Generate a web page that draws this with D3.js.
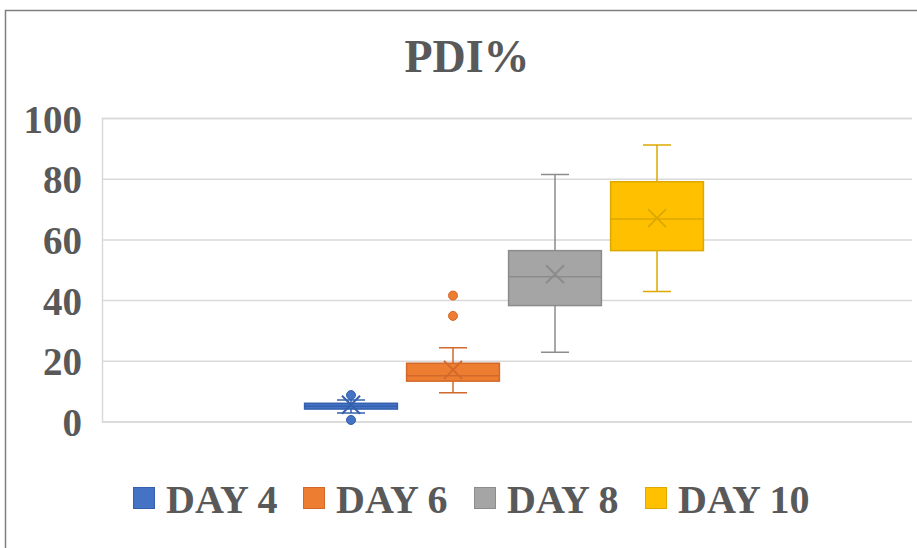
<!DOCTYPE html>
<html>
<head>
<meta charset="utf-8">
<script src="https://cdn.jsdelivr.net/npm/d3@7"></script>
<style>
	html, body { margin: 0; padding: 0; background: #fff; }
	svg { display: block; }
</style>
</head>
<body>
<div id="chart"></div>
<script>

const series = ['DAY 4', 'DAY 6', 'DAY 8', 'DAY 10'];
const whiskerLow = [2.8, 9.5, 22.8, 42.8];
const q1 = [4.1, 13.3, 38.2, 56.3];
const median = [5.0, 15.1, 47.7, 66.7];
const q3 = [6.0, 19.2, 56.3, 79.0];
const whiskerHigh = [7.1, 24.3, 81.4, 91.1];
const mean = [5.5, 17.0, 48.5, 67.0];
const outliers = [[8.7, 0.5], [41.5, 34.8], [], []];
const yTicks = [0, 20, 40, 60, 80, 100];

const theme = {
	fill: ['#4472C4', '#ED7D31', '#A5A5A5', '#FFC000'],
	stroke: ['#3560AE', '#D2692A', '#8C8C8C', '#DDA800'],
	text: '#595959',
	grid: '#D9D9D9',
};

const width = 917;
const height = 548;
const font = '"Liberation Serif", "Times New Roman", serif';

const svg = d3.select('#chart')
	.append('svg')
	.attr('width', width)
	.attr('height', height);

// chart frame, right and bottom edges run off the picture
svg.append('rect')
	.attr('x', 5.5)
	.attr('y', 10.5)
	.attr('width', 1000)
	.attr('height', 1000)
	.attr('fill', 'none')
	.attr('stroke', '#7F7F7F')
	.attr('stroke-width', 1.5);

svg.append('text')
	.attr('x', 467)
	.attr('y', 72)
	.attr('text-anchor', 'middle')
	.attr('font-family', font)
	.attr('font-weight', 'bold')
	.attr('font-size', 46)
	.attr('fill', theme.text)
	.text('PDI%');

const plot = { left: 102, right: 912, top: 118, bottom: 421.5 };

const y = d3.scaleLinear()
	.domain([0, 100])
	.range([plot.bottom, plot.top]);

const x = d3.scaleBand()
	.domain(series)
	.range([300, 708])
	.paddingInner(0.09)
	.paddingOuter(0.045);

// gridlines
const yAxis = d3.axisLeft(y)
	.tickValues(yTicks)
	.tickSize(-(plot.right - plot.left))
	.tickPadding(20)
	.tickFormat(d3.format('d'));

const gAxis = svg.append('g')
	.attr('transform', `translate(${plot.left},0)`)
	.call(yAxis);

gAxis.select('.domain').attr('stroke', theme.grid).attr('stroke-width', 1.5);
gAxis.selectAll('.tick line').attr('stroke', theme.grid).attr('stroke-width', 1.5);
gAxis.selectAll('.tick text')
	.attr('font-family', font)
	.attr('font-weight', 'bold')
	.attr('font-size', 39)
	.attr('fill', theme.text)
	.attr('dy', '0.36em');

const rows = series.map((s, i) => ({
	name: s, i: i,
	lo: whiskerLow[i], q1: q1[i], med: median[i], q3: q3[i], hi: whiskerHigh[i],
	mean: mean[i], out: outliers[i],
}));

const cap = 28;
const boxes = svg.append('g').selectAll('g')
	.data(rows)
	.join('g')
	.attr('transform', d => `translate(${x(d.name) + x.bandwidth() / 2},0)`);

// whiskers
boxes.append('path')
	.attr('fill', 'none')
	.attr('stroke', d => theme.stroke[d.i])
	.attr('stroke-width', 1.5)
	.attr('d', d => `M0,${y(d.lo)}V${y(d.q1)}M0,${y(d.q3)}V${y(d.hi)}` +
		`M${-cap / 2},${y(d.lo)}H${cap / 2}M${-cap / 2},${y(d.hi)}H${cap / 2}`);

boxes.append('rect')
	.attr('x', -x.bandwidth() / 2)
	.attr('width', x.bandwidth())
	.attr('y', d => y(d.q3))
	.attr('height', d => y(d.q1) - y(d.q3))
	.attr('fill', d => theme.fill[d.i])
	.attr('stroke', d => theme.stroke[d.i])
	.attr('stroke-width', 1.5);

boxes.append('line')
	.attr('x1', -x.bandwidth() / 2)
	.attr('x2', x.bandwidth() / 2)
	.attr('y1', d => y(d.med))
	.attr('y2', d => y(d.med))
	.attr('stroke', d => theme.stroke[d.i])
	.attr('stroke-width', 1.5);

// mean marker
const m = 9;
boxes.append('path')
	.attr('fill', 'none')
	.attr('stroke', d => theme.stroke[d.i])
	.attr('stroke-width', 2)
	.attr('d', d => `M${-m},${y(d.mean) - m}L${m},${y(d.mean) + m}M${m},${y(d.mean) - m}L${-m},${y(d.mean) + m}`);

boxes.selectAll('circle')
	.data(d => d.out.map(v => ({ v: v, i: d.i })))
	.join('circle')
	.attr('cx', 0)
	.attr('cy', d => y(d.v))
	.attr('r', 4.5)
	.attr('fill', d => theme.fill[d.i])
	.attr('stroke', d => theme.stroke[d.i]);

// legend
const legendX = [133, 303, 474, 645];
const legend = svg.append('g').selectAll('g')
	.data(series)
	.join('g')
	.attr('transform', (d, i) => `translate(${legendX[i]},0)`);

legend.append('rect')
	.attr('x', 0.5)
	.attr('y', 487.5)
	.attr('width', 21)
	.attr('height', 21)
	.attr('fill', (d, i) => theme.fill[i])
	.attr('stroke', (d, i) => theme.stroke[i]);

legend.append('text')
	.attr('x', 33)
	.attr('y', 512.5)
	.attr('font-family', font)
	.attr('font-weight', 'bold')
	.attr('font-size', 40)
	.attr('fill', theme.text)
	.text(d => d);

</script>
</body>
</html>
